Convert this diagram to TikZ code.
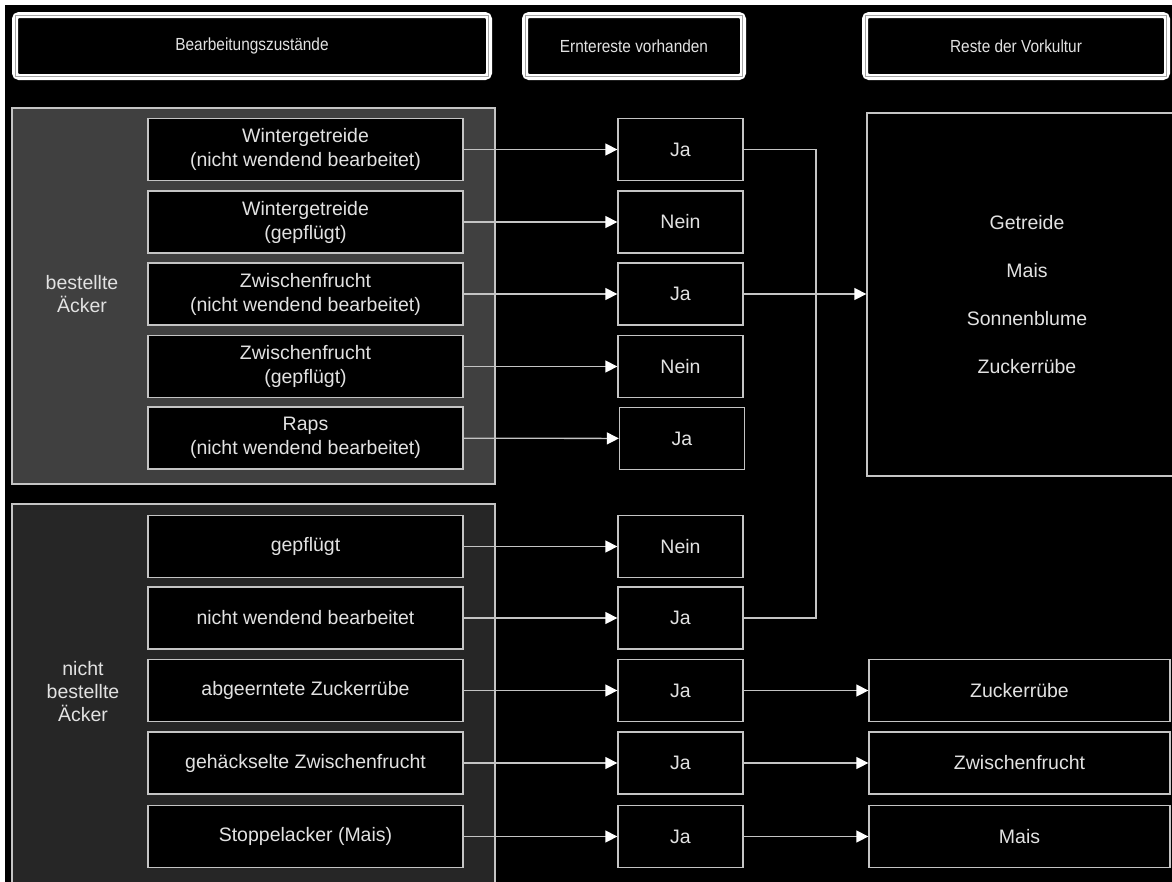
\documentclass[tikz,border=0pt]{standalone}
\usepackage{fontspec}
\setmainfont{Liberation Sans}
\newfontfamily\hdrfont{Liberation Sans}[FakeStretch=0.88]
\usetikzlibrary{arrows.meta,calc}
\definecolor{txt}{HTML}{E2E2E2}
\definecolor{edge}{HTML}{C4C4C4}
\definecolor{grpA}{HTML}{404040}
\definecolor{grpB}{HTML}{262626}
\begin{document}
\begin{tikzpicture}[x=1pt,y=-1pt,
  box/.style={draw=edge, line width=1.3pt, fill=black, text=txt,
    font=\fontsize{19.5}{24}\selectfont, align=center, inner sep=0pt},
  lbox/.style={box, minimum width=315pt, minimum height=62pt},
  mbox/.style={box, minimum width=125pt, minimum height=62pt},
  rbox/.style={box, minimum width=301pt, minimum height=62pt},
  hdr/.style={draw=white, line width=6pt, rounded corners=4pt, fill=black,
    text=txt, font=\hdrfont\fontsize{17.5}{21}\selectfont, inner sep=0pt, minimum height=62pt},
  grp/.style={draw=edge, line width=1.3pt},
  glabel/.style={text=txt, font=\fontsize{19.5}{23}\selectfont, align=center},
  conn/.style={draw=edge, line width=1.3pt},
  arr/.style={conn, -{Triangle[length=12pt,width=12pt,color=white]}}
]
\useasboundingbox (0,0) rectangle (1172,881);
\clip (0,0) rectangle (1172,881);
\fill[white] (0,0) rectangle (1172,881);
\fill[black] (5,5) rectangle (1180,890);

% headers
\node[hdr, minimum width=474pt] (h1) at (252,46) {Bearbeitungszustände};
\node[hdr, minimum width=218pt] (h2) at (634,46) {Erntereste vorhanden};
\node[hdr, minimum width=302pt] (h3) at (1016,46) {Reste der Vorkultur};
\foreach \h in {h1,h2,h3}{
  \draw[color=gray!70, line width=0.8pt]
    ($(\h.north west)+(3.5,3.5)$) rectangle ($(\h.south east)+(-3.5,-3.5)$);
}

% groups
\filldraw[grp, fill=grpA] (12,108) rectangle (495,484);
\filldraw[grp, fill=grpB] (12,504) rectangle (495,895);
\node[glabel] (ga) at (82,294) {bestellte\\Äcker};
\node[glabel] (gb) at (83,692) {nicht\\bestellte\\Äcker};

% left boxes
\node[lbox] (l1) at (305.5,149.5) {Wintergetreide\\(nicht wendend bearbeitet)};
\node[lbox] (l2) at (305.5,222) {Wintergetreide\\(gepflügt)};
\node[lbox] (l3) at (305.5,294) {Zwischenfrucht\\(nicht wendend bearbeitet)};
\node[lbox] (l4) at (305.5,366.5) {Zwischenfrucht\\(gepflügt)};
\node[lbox] (l5) at (305.5,438) {Raps\\(nicht wendend bearbeitet)};
\node[lbox] (l6) at (305.5,546.5) {gepflügt};
\node[lbox] (l7) at (305.5,618) {nicht wendend bearbeitet};
\node[lbox] (l8) at (305.5,690.5) {abgeerntete Zuckerrübe};
\node[lbox] (l9) at (305.5,763) {gehäckselte Zwischenfrucht};
\node[lbox] (l10) at (305.5,836.5) {Stoppelacker (Mais)};

% middle boxes
\node[mbox] (m1) at (680.5,149.5) {Ja};
\node[mbox] (m2) at (680.5,222) {Nein};
\node[mbox] (m3) at (680.5,294) {Ja};
\node[mbox] (m4) at (680.5,366.5) {Nein};
\node[mbox] (m5) at (682,438.5) {Ja};
\node[mbox] (m6) at (680.5,546.5) {Nein};
\node[mbox] (m7) at (680.5,618) {Ja};
\node[mbox] (m8) at (680.5,690.5) {Ja};
\node[mbox] (m9) at (680.5,763) {Ja};
\node[mbox] (m10) at (680.5,836.5) {Ja};

% right boxes
\node[box, minimum width=320pt, minimum height=363pt,
  font=\fontsize{19.5}{47.7}\selectfont, text width=306pt] (big) at (1027,294.5)
  {Getreide\\Mais\\Sonnenblume\\Zuckerrübe};
\node[rbox] (r8) at (1019.5,690.5) {Zuckerrübe};
\node[rbox] (r9) at (1019.5,763) {Zwischenfrucht};
\node[rbox] (r10) at (1019.5,836.5) {Mais};

% connectors
\foreach \i in {1,...,10}{ \draw[arr] (l\i) -- (m\i); }
\foreach \i in {8,9,10}{ \draw[arr] (m\i) -- (r\i); }
\coordinate (vx) at (816,0);
\draw[conn] (m1.east) -- (vx |- m1) -- (vx |- m7) -- (m7.east);
\draw[arr] (m3.east) -- (big.west |- m3);
\end{tikzpicture}
\end{document}
